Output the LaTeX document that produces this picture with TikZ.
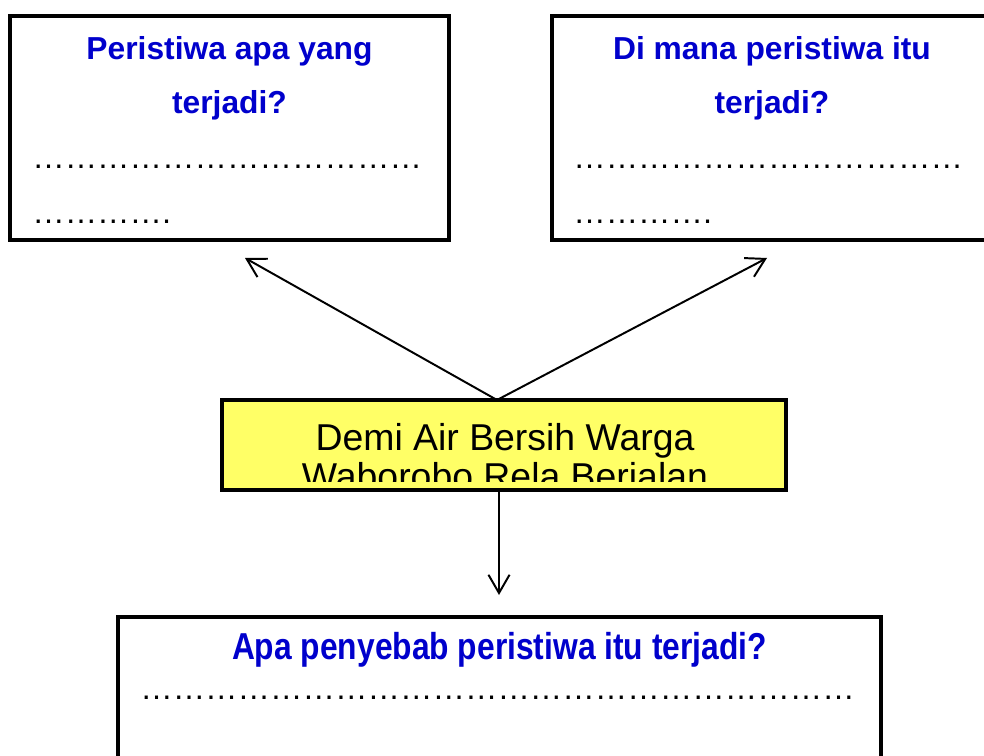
\documentclass[tikz,border=0pt]{standalone}
\usepackage{fontspec}
\setmainfont{Liberation Sans}
\usetikzlibrary{arrows.meta}

\begin{document}
\begin{tikzpicture}[
  kotak/.style={draw=black, line width=3.5pt, fill=white, rectangle, inner sep=0pt},
  judul/.style={text=tanya, font=\bfseries\fontsize{22.6}{38.4}\selectfont, align=center, anchor=north, inner sep=0pt},
  titik/.style={font=\fontsize{23.1}{28}\selectfont, anchor=base west, inner sep=0pt},
  panah/.style={-{Straight Barb[length=13pt, width=15pt]}, line width=1.4pt}
]
% Colors
\definecolor{tanya}{RGB}{0,0,204}
\definecolor{kuning}{RGB}{255,255,102}

\useasboundingbox (0,0) rectangle (24.6,18.875);

% Question boxes
\node[kotak, minimum width=10.975cm, minimum height=5.6cm] (apa) at (5.7375,15.675) {};
\node[kotak, minimum width=11cm, minimum height=5.6cm] (dimana) at (19.3,15.675) {};
\node[kotak, minimum width=19.075cm, minimum height=5cm] (sebab) at (12.4875,0.95) {};

% Question texts
\node[judul] (apaT) at (5.7375,17.975) {Peristiwa apa yang\\terjadi?};
\node[titik] (apaD1) at (0.8,14.65) {…{}…{}…{}…{}…{}…{}…{}…{}…{}…{}…{}…};
\node[titik] (apaD2) at (0.8,13.275) {…{}…{}…{}…{}.};

\node[judul] (dimanaT) at (19.3,17.975) {Di mana peristiwa itu\\terjadi?};
\node[titik] (dimanaD1) at (14.325,14.65) {…{}…{}…{}…{}…{}…{}…{}…{}…{}…{}…{}…};
\node[titik] (dimanaD2) at (14.325,13.275) {…{}…{}…{}…{}.};

\node[judul] (sebabT) at (12.4875,3.075) {\scalebox{1}[1.18]{Apa penyebab peristiwa itu terjadi?}};
\node[titik] (sebabD) at (3.5,1.4) {…{}…{}…{}…{}…{}…{}…{}…{}…{}…{}…{}…{}…{}…{}…{}…{}…{}…{}…{}…{}…{}…};

% Headline box (text cut off at the bottom)
\node[kotak, fill=kuning, minimum width=14.1cm, minimum height=2.25cm] (berita) at (12.6,7.75) {};
\begin{scope}
  \clip (5.6,8.8) rectangle (19.6,6.825);
  \node[align=center, anchor=north, inner sep=0pt, font=\fontsize{26.6}{27.7}\selectfont] (beritaT) at (12.625,8.3) {Demi Air Bersih Warga\\Waborobo Rela Berjalan};
\end{scope}

% Arrows
\coordinate (pangkal) at (12.425,8.875);
\coordinate (ujungA) at (6.125,12.425);
\coordinate (ujungB) at (19.175,12.425);
\coordinate (bawah) at (12.475,6.625);
\coordinate (ujungC) at (12.475,4.0);
\draw[panah] (pangkal) -- (ujungA);
\draw[panah] (pangkal) -- (ujungB);
\draw[panah] (bawah) -- (ujungC);

\end{tikzpicture}
\end{document}
